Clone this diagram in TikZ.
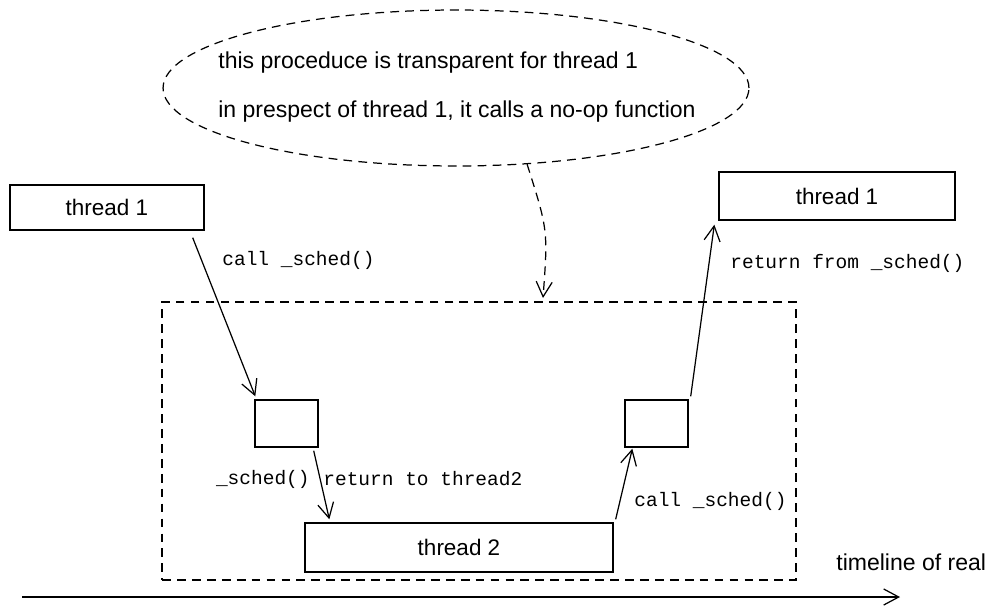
\documentclass[tikz,border=0pt]{standalone}
\usepackage{fontspec}
\setmainfont{Liberation Sans}
\setmonofont{Liberation Mono}
\usetikzlibrary{positioning,shapes.geometric,arrows.meta}
\tikzset{
  threadbox/.style = {draw, line width=0.8pt, inner sep=0pt, font=\fontsize{12.8}{15}\selectfont},
  stubbox/.style = {draw, line width=0.8pt, inner sep=0pt, minimum width=1.26cm, minimum height=0.94cm},
  codelabel/.style = {font=\ttfamily\fontsize{11.1}{13}\selectfont, inner sep=0pt},
  handlabel/.style = {font=\fontsize{13.1}{15}\selectfont, inner sep=0pt},
  sketchdash/.style = {dash pattern=on 5pt off 3.5pt, line width=0.7pt},
  flow/.style = {line width=0.7pt, -{Straight Barb[length=3mm,width=3.2mm]}}
}
\begin{document}
\begin{tikzpicture}[x=0.02cm, y=-0.02cm]
\useasboundingbox (0,0) rectangle (996,605);

\node[ellipse, draw, sketchdash, minimum width=11.72cm, minimum height=3.12cm] (note) at (456,88) {};
\node[handlabel, anchor=west] (line1) at (218,63) {this proceduce is transparent for thread 1};
\node[handlabel, anchor=west] (line2) at (218,112) {in prespect of thread 1, it calls a no-op function};

\node[draw, sketchdash, minimum width=12.68cm, minimum height=5.56cm] (frame) at (479,441) {};

\node[threadbox, minimum width=3.88cm, minimum height=0.9cm] (tl) at (107,207.5) {thread 1};
\node[threadbox, minimum width=4.72cm, minimum height=0.96cm] (tr) at (837,196) {thread 1};
\node[stubbox] (sl) at (286.5,423.5) {};
\node[stubbox] (sr) at (656.5,423.5) {};
\node[threadbox, minimum width=6.16cm, minimum height=0.98cm] (t2) at (459,547.5) {thread 2};

\coordinate (tip) at (543,298);
\draw[sketchdash, flow] (note.-47) .. controls (548,230) .. (tip);

\draw[flow] ([shift={(-12,7)}]tl.south east) -- ([shift={(1,-3)}]sl.north west);
\node[codelabel, anchor=west] (call1) at (222,260) {call \_sched()};

\draw[flow] ([shift={(-5,3)}]sl.south east) -- ([shift={(25,-3)}]t2.north west);
\node[codelabel, anchor=east] (sched) at (310,479) {\_sched()};
\node[codelabel, anchor=west] (ret2) at (323,479) {return to thread2};

\draw[flow] ([shift={(2,-3)}]t2.north east) -- ([shift={(8,1)}]sr.south west);
\node[codelabel, anchor=west] (call2) at (634,501) {call \_sched()};

\draw[flow] ([shift={(2,-3)}]sr.north east) -- ([shift={(-4,4)}]tr.south west);
\node[codelabel, anchor=west] (ret1) at (730,263) {return from \_sched()};

\coordinate (t0) at (22,597);
\coordinate (t1) at (900,597);
\draw[flow] (t0) -- (t1);
\node[handlabel, anchor=west] (time) at (836,562) {timeline of real};
\end{tikzpicture}
\end{document}
